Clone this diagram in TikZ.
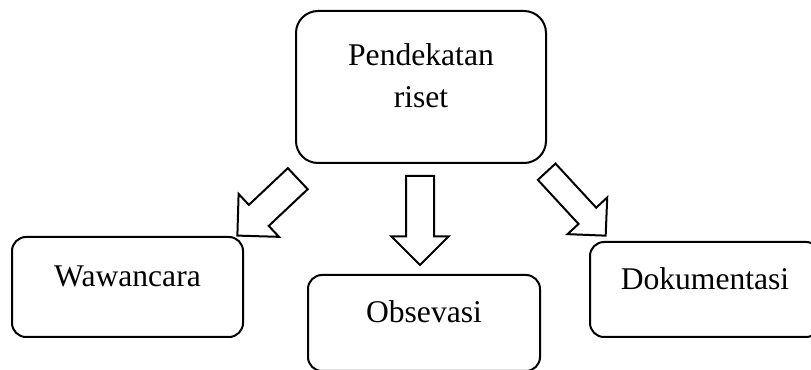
\documentclass[tikz,border=0pt]{standalone}
\usepackage{fontspec}
\setmainfont{Liberation Serif}
\usetikzlibrary{shapes.arrows}

\begin{document}
\begin{tikzpicture}[x=0.75pt,y=-0.75pt,
        box/.style={draw=black,line width=1.5pt,rounded corners=10.5pt,inner sep=0pt,
          font=\fontsize{23.7}{31.5}\selectfont,text height=8pt,text depth=8pt},
        blockarr/.style={single arrow,draw=black,line width=1.5pt,inner xsep=0pt,
          anchor=tail}]
      \useasboundingbox (0,0) rectangle (811,370);
      \node[box,align=center,rounded corners=16.5pt,minimum width=187.5pt,minimum height=114pt,
        text height=31.5pt,text depth=0pt] (pend) at (421,87) {Pendekatan\\riset};
      \node[box,minimum width=173.25pt,minimum height=75pt] (waw) at (127.5,287) {Wawancara};
      \node[box,minimum width=174pt,minimum height=72pt] (obs) at (424,323) {Obsevasi};
      \node[box,minimum width=172.5pt,minimum height=71.25pt] (dok) at (705,289.5) {Dokumentasi};
      \foreach \nm/\anc/\dx/\dy/\ang/\len/\sh/\ext in {arrwaw/south west/3.5/14/-136.7/62.25/10.1/11.25,
          arrobs/south/-1/11/-90/66.75/9.75/10.9, arrdok/south east/-1/7/-47.3/65.25/8.25/11.25}
        \node[blockarr,minimum height=\len pt,inner ysep=\sh pt,single arrow head extend=\ext pt,
          rotate=\ang] (\nm) at ([shift={(\dx,\dy)}]pend.\anc) {};
    \end{tikzpicture}
\end{document}
